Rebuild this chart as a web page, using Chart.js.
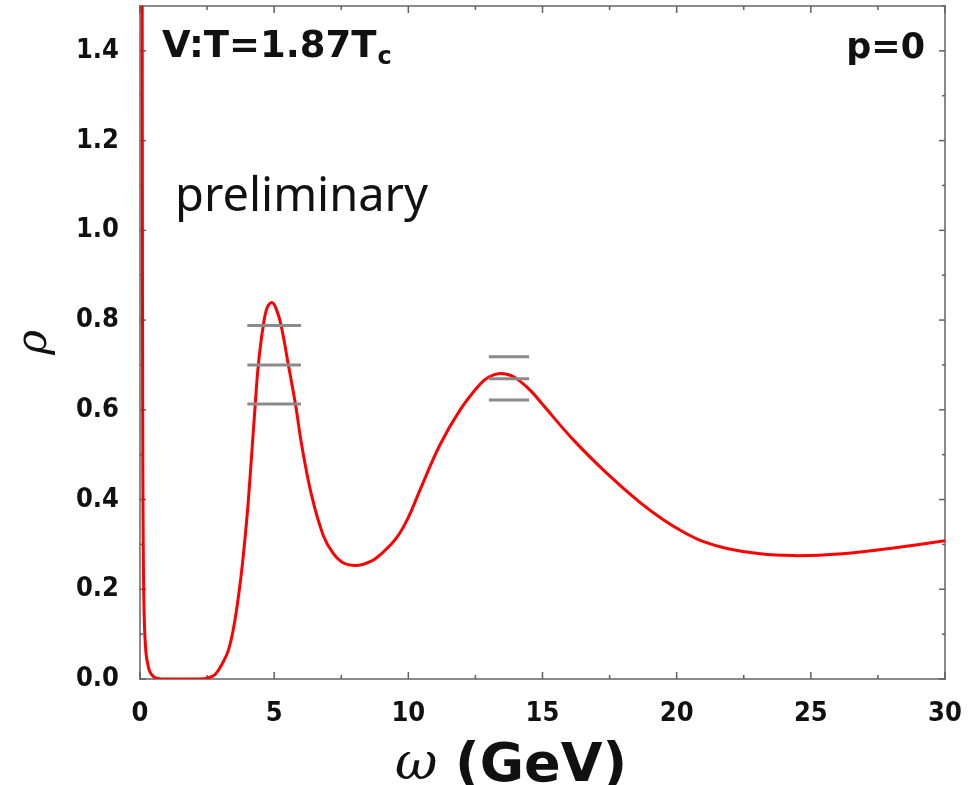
<!DOCTYPE html>
<html>
<head>
<meta charset="utf-8">
<script src="https://cdn.jsdelivr.net/npm/chart.js@4/dist/chart.umd.min.js"></script>
<style>
  html, body { margin: 0; padding: 0; background: #fff; }
  canvas { display: block; }
</style>
</head>
<body>
<canvas id="c" width="979" height="785"></canvas>
<script>
// Spectral function rho(omega), omega in GeV
const omega = [0.08, 0.09, 0.10, 0.12, 0.16, 0.22, 0.30, 0.40, 0.56, 0.80, 1.50, 2.20, 2.50, 2.80, 3.10, 3.30, 3.50, 3.70, 3.85, 4.00, 4.15, 4.28, 4.41, 4.60, 4.75, 4.93, 5.10, 5.26, 5.53, 5.80, 6.03, 6.40, 6.83, 7.20, 7.60, 8.08, 8.60, 9.10, 9.60, 10.00, 10.44, 11.18, 11.93, 12.67, 13.00, 13.39, 13.80, 14.16, 14.60, 15.03, 16.15, 17.39, 18.64, 19.50, 20.30, 21.00, 21.87, 23.11, 24.35, 25.60, 26.84, 28.08, 30.00];
const rho   = [1.60, 1.00, 0.60, 0.30, 0.13, 0.06, 0.03, 0.012, 0.003, 0.0, 0.0, 0.0, 0.002, 0.010, 0.038, 0.065, 0.118, 0.198, 0.275, 0.370, 0.490, 0.600, 0.700, 0.790, 0.829, 0.839, 0.821, 0.788, 0.700, 0.610, 0.520, 0.408, 0.320, 0.280, 0.258, 0.253, 0.262, 0.285, 0.318, 0.360, 0.422, 0.522, 0.600, 0.657, 0.673, 0.681, 0.677, 0.664, 0.640, 0.610, 0.533, 0.459, 0.393, 0.355, 0.326, 0.306, 0.291, 0.279, 0.275, 0.277, 0.283, 0.292, 0.308];

// Horizontal reference levels (ground state and excited state bands)
const band1Omega = [4, 6];
const band1Rho   = [0.788, 0.700, 0.613];
const band2Omega = [13, 14.5];
const band2Rho   = [0.718, 0.669, 0.622];

// Tick labels
const xTickValues = [0, 5, 10, 15, 20, 25, 30];
const yTickValues = [0, 0.2, 0.4, 0.6, 0.8, 1.0, 1.2, 1.4];

const curve = omega.map((w, i) => ({ x: w, y: rho[i] }));

function levelSegments(range, levels) {
  const pts = [];
  levels.forEach(l => {
    pts.push({ x: range[0], y: l }, { x: range[1], y: l }, { x: range[1], y: null });
  });
  return pts;
}
const bands = levelSegments(band1Omega, band1Rho).concat(levelSegments(band2Omega, band2Rho));

const TICK_FONT = { family: '"DejaVu Sans Condensed", "DejaVu Sans", sans-serif', weight: 'bold', size: 27 };

// Gray frame around the plot with inward major/minor ticks on all four sides
const framePlugin = {
  id: 'frame',
  beforeDatasetsDraw(chart) {
    const { ctx, chartArea: a, scales: { x, y } } = chart;
    ctx.save();
    ctx.strokeStyle = '#8a8a8a';
    ctx.lineWidth = 2;
    ctx.strokeRect(a.left, a.top, a.right - a.left, a.bottom - a.top);
    ctx.strokeStyle = '#606060';
    ctx.lineWidth = 1.5;
    const seg = (x1, y1, x2, y2) => { ctx.beginPath(); ctx.moveTo(x1, y1); ctx.lineTo(x2, y2); ctx.stroke(); };
    for (let i = 0; i <= 12; i++) {
      const v = i * 2.5;
      const px = x.getPixelForValue(v);
      const L = i % 2 === 0 ? 7 : 4;
      seg(px, a.bottom, px, a.bottom - L);
      seg(px, a.top, px, a.top + L);
    }
    for (let i = 0; i <= 15; i++) {
      const v = i * 0.1;
      const py = y.getPixelForValue(v);
      const L = i % 2 === 0 ? 6 : 3;
      seg(a.left, py, a.left + L, py);
      seg(a.right, py, a.right - L, py);
    }
    ctx.restore();
  }
};

// Text annotations and x-axis title
const textPlugin = {
  id: 'texts',
  afterDraw(chart) {
    const { ctx, chartArea: a } = chart;
    ctx.save();
    ctx.fillStyle = '#111';
    ctx.textBaseline = 'alphabetic';
    ctx.textAlign = 'left';
    ctx.font = 'bold 37px "DejaVu Sans"';
    const main = 'V:T=1.87T';
    ctx.fillText(main, a.left + 22, a.top + 51);
    const w = ctx.measureText(main).width;
    ctx.font = 'bold 24px "DejaVu Sans"';
    ctx.fillText('c', a.left + 22 + w + 1, a.top + 58);

    ctx.font = 'bold 35px "DejaVu Sans"';
    ctx.textAlign = 'right';
    ctx.fillText('p=0', a.right - 20, a.top + 52);

    ctx.textAlign = 'left';
    ctx.font = '47px "Noto Sans"';
    ctx.fillText('preliminary', 175, 211);

    // omega (GeV)
    ctx.font = 'italic 52px "DejaVu Serif"';
    ctx.fillText('\u03c9', 395, 779);
    ctx.font = 'bold 54px "DejaVu Sans"';
    ctx.fillText('(GeV)', 455, 781);
    ctx.restore();
  }
};

new Chart(document.getElementById('c'), {
  type: 'line',
  data: {
    datasets: [
      {
        data: bands,
        borderColor: '#8a8a8a',
        borderWidth: 3,
        pointRadius: 0,
        spanGaps: false,
        tension: 0,
        order: 0
      },
      {
        data: curve,
        borderColor: '#ff0000',
        borderWidth: 3,
        pointRadius: 0,
        tension: 0.4,
        capBezierPoints: true,
        fill: false,
        order: 1
      }
    ]
  },
  options: {
    responsive: false,
    animation: false,
    devicePixelRatio: 1,
    layout: { padding: { left: 0, top: 6, right: 34, bottom: 0 } },
    plugins: { legend: { display: false }, tooltip: { enabled: false } },
    scales: {
      x: {
        type: 'linear',
        min: 0,
        max: 30,
        grid: { display: false },
        border: { display: false },
        afterBuildTicks: s => { s.ticks = xTickValues.map(v => ({ value: v })); },
        afterFit: s => { s.height = 106; s.paddingLeft = 0; s.paddingRight = 0; },
        ticks: { font: TICK_FONT, color: '#111', padding: 11, maxRotation: 0, autoSkip: false }
      },
      y: {
        type: 'linear',
        min: 0,
        max: 1.5,
        grid: { display: false },
        border: { display: false },
        afterBuildTicks: s => { s.ticks = yTickValues.map(v => ({ value: v })); },
        afterFit: s => { s.width = 140; s.paddingTop = 0; s.paddingBottom = 0; },
        ticks: { font: TICK_FONT, color: '#111', padding: 13, autoSkip: false, callback: v => v.toFixed(1) },
        title: {
          display: true,
          text: '\u03c1',
          color: '#111',
          font: { family: '"DejaVu Serif", serif', style: 'italic', size: 42 },
          padding: { top: 10, bottom: 0 }
        }
      }
    }
  },
  plugins: [framePlugin, textPlugin]
});
</script>
</body>
</html>
